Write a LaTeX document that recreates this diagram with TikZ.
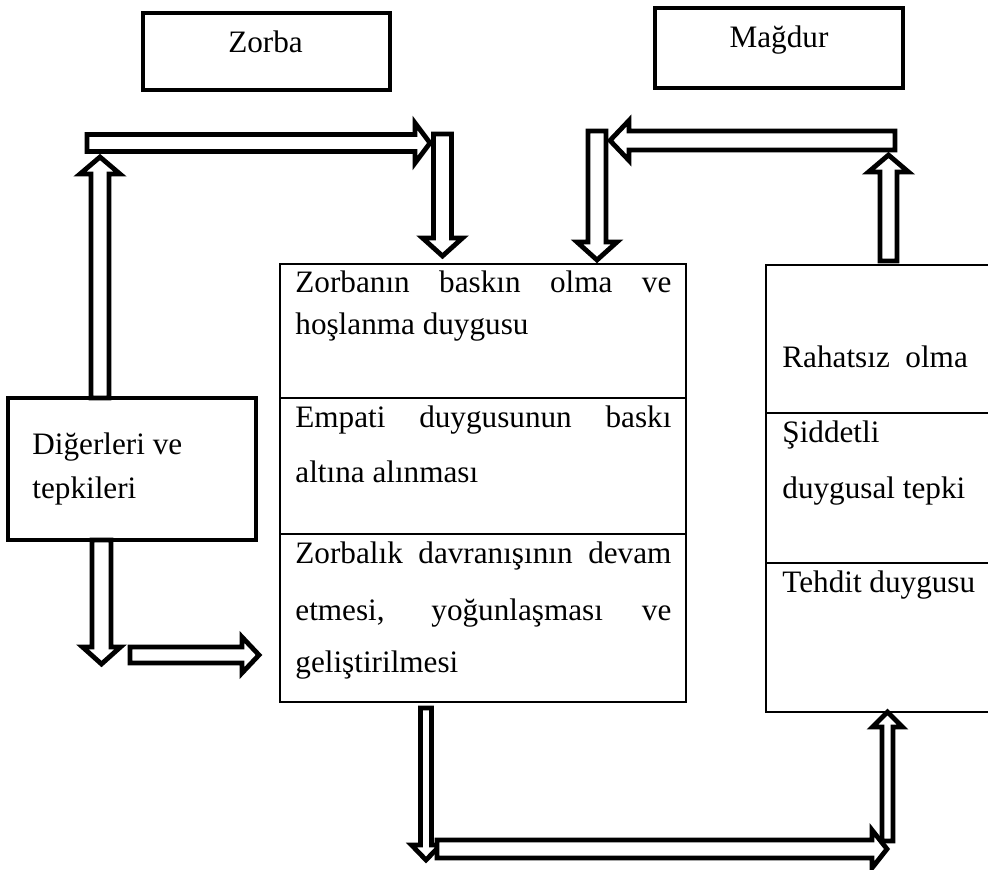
\documentclass[tikz,border=0pt]{standalone}
\usepackage{fontspec}
\setmainfont{Liberation Serif}
\tikzset{
  barrow/.style={draw=black, fill=white, line width=2.4pt, line join=miter},
  thinbox/.style={draw=black, line width=1.4pt},
  thickbox/.style={draw=black, line width=2pt},
  txt/.style={inner sep=0pt, anchor=base west, font=\fontsize{15.6}{18}\selectfont},
  ctxt/.style={inner sep=0pt, anchor=base, font=\fontsize{15.6}{18}\selectfont},
}
% horizontal block arrow: start x, tip x, centre y, shaft half, head half, head length (signed)
\newcommand\harr[6]{\draw[barrow] ({#1},{#3-#4}) -- ({#2-(#6)},{#3-#4}) -- ({#2-(#6)},{#3-#5}) -- ({#2},{#3}) -- ({#2-(#6)},{#3+#5}) -- ({#2-(#6)},{#3+#4}) -- ({#1},{#3+#4}) -- cycle;}
% vertical block arrow: centre x, start y, tip y, shaft half, head half, head length (signed)
\newcommand\varr[6]{\draw[barrow] ({#1-#4},{#2}) -- ({#1-#4},{#3-(#6)}) -- ({#1-#5},{#3-(#6)}) -- ({#1},{#3}) -- ({#1+#5},{#3-(#6)}) -- ({#1+#4},{#3-(#6)}) -- ({#1+#4},{#2}) -- cycle;}
\begin{document}
\begin{tikzpicture}[x=0.5pt,y=-0.5pt]
\useasboundingbox (0,0) rectangle (988,870);
% top boxes
\draw[thickbox] (143,13) rectangle (390,90);
\node[ctxt] (zorba) at (265.5,53) {Zorba};
\draw[thickbox] (655,8) rectangle (903,88);
\node[ctxt] (magdur) at (779,48) {Mağdur};
% left box
\draw[thickbox] (8,398) rectangle (256,540);
\node[txt] (dig1) at (32,455) {Diğerleri ve};
\node[txt] (dig2) at (32,498) {tepkileri};
% centre box
\draw[thinbox] (280,264) rectangle (686,702);
\draw[thinbox] (280,398) -- (686,398);
\draw[thinbox] (280,534) -- (686,534);
\node[txt] (c1) at (295,293) {\makebox[188pt][s]{Zorbanın baskın olma ve}};
\node[txt] (c2) at (295,335) {hoşlanma duygusu};
\node[txt] (c3) at (295,428) {\makebox[188pt][s]{Empati duygusunun baskı}};
\node[txt] (c4) at (295,482) {altına alınması};
\node[txt] (c5) at (295,563) {\makebox[188pt][s]{Zorbalık davranışının devam}};
\node[txt] (c6) at (295,620) {\makebox[188pt][s]{etmesi, yoğunlaşması ve}};
\node[txt] (c7) at (295,672) {geliştirilmesi};
% right box (open to the right edge)
\draw[thinbox] (988,265) -- (766,265) -- (766,712) -- (988,712);
\draw[thinbox] (766,413) -- (988,413);
\draw[thinbox] (766,563) -- (988,563);
\node[txt] (r1) at (782,368) {Rahatsız\ \ olma};
\node[txt] (r2) at (782,443) {Şiddetli};
\node[txt] (r3) at (782,498) {duygusal tepki};
\node[txt] (r4) at (782,592) {Tehdit duygusu};
% block arrows
\varr{100}{398}{157}{9}{20}{-17}
\harr{87}{430}{143}{8.5}{20}{15}
\varr{442.5}{134}{256}{9}{20}{18}
\harr{895}{610}{140.5}{9.5}{20}{-19}
\varr{597}{131}{260}{9}{20}{18}
\varr{888.5}{261}{155}{8.5}{20}{-17}
\varr{101.5}{540}{664}{9.5}{19}{17}
\harr{130}{259}{655}{8}{18}{17}
\varr{426}{708}{860}{5.5}{14.5}{15}
\harr{437}{887}{849}{9}{19}{15}
\varr{887.5}{841}{712}{5.5}{15}{-15}
\end{tikzpicture}
\end{document}
